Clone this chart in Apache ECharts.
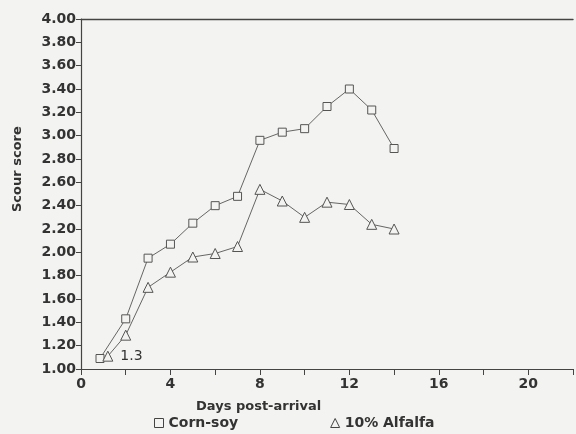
<!DOCTYPE html>
<html><head><meta charset="utf-8">
<script src="https://cdn.jsdelivr.net/npm/echarts@6/dist/echarts.min.js"></script>
<style>html,body{margin:0;padding:0;background:#f3f3f1}#c{width:576px;height:434px}</style>
</head><body><div id="c"></div>
<script>
const cornDays = [0.85, 2, 3, 4, 5, 6, 7, 8, 9, 10, 11, 12, 13, 14];
const cornSoy = [1.09, 1.43, 1.95, 2.07, 2.25, 2.40, 2.48, 2.96, 3.03, 3.06, 3.25, 3.40, 3.22, 2.89];
const alfDays = [1.2, 2, 3, 4, 5, 6, 7, 8, 9, 10, 11, 12, 13, 14];
const alfalfa = [1.11, 1.29, 1.70, 1.83, 1.96, 1.99, 2.05, 2.54, 2.44, 2.30, 2.43, 2.41, 2.24, 2.20];
const seriesNames = ['Corn-soy', '10% Alfalfa'];
const pointNote = '1.3';
const yTitle = 'Scour score';
const xTitle = 'Days post-arrival';

const font = '"DejaVu Sans", "Liberation Sans", Arial, sans-serif';
const ink = '#333';
const chart = echarts.init(document.getElementById('c'));
const mk = (xs, ys) => xs.map((x, i) => [x, ys[i]]);
const alfData = mk(alfDays, alfalfa).map((v, i) => i === 0 ? {
  value: v,
  label: { show: true, position: 'right', distance: 7, formatter: pointNote, fontSize: 14, color: ink, fontFamily: font }
} : v);

chart.setOption({
  backgroundColor: '#f3f3f1',
  animation: false,
  grid: { left: 81, right: 0, top: 19, bottom: 65 },
  xAxis: [{
    type: 'value', min: 0, max: 22, interval: 2,
    axisLine: { show: true, lineStyle: { color: '#444', width: 1.2 } },
    axisTick: { show: true, length: 6, lineStyle: { color: '#444' } },
    axisLabel: { formatter: v => v % 4 === 0 ? String(v) : '', fontSize: 14, fontWeight: 'bold', color: ink, fontFamily: font, margin: 8 },
    splitLine: { show: false }
  }, {
    type: 'value', min: 0, max: 22, position: 'top',
    axisLine: { show: true, onZero: false, lineStyle: { color: '#444', width: 1.4 } },
    axisTick: { show: false }, axisLabel: { show: false }, splitLine: { show: false }
  }],
  yAxis: {
    type: 'value', min: 1, max: 4, interval: 0.2,
    axisLine: { show: true, lineStyle: { color: '#444', width: 1.2 } },
    axisTick: { show: true, length: 5, lineStyle: { color: '#444' } },
    axisLabel: { formatter: v => v.toFixed(2), fontSize: 14, fontWeight: 'bold', color: ink, fontFamily: font, margin: 5 },
    splitLine: { show: false }
  },
  legend: {
    left: 149, top: 411, itemGap: 92, itemWidth: 9, itemHeight: 9,
    textStyle: { fontSize: 14, color: ink, fontFamily: font, fontWeight: 'bold' },
    itemStyle: { color: '#f3f3f1', borderColor: '#444', borderWidth: 1 },
    data: [{ name: seriesNames[0], icon: 'rect' }, { name: seriesNames[1], icon: 'triangle' }]
  },
  graphic: [
    { type: 'text', x: 11, y: 212, rotation: Math.PI / 2, style: { text: yTitle, font: 'bold 13px ' + font, fill: ink } },
    { type: 'text', left: 196, top: 400, style: { text: xTitle, font: 'bold 13px ' + font, fill: ink } }
  ],
  series: [{
    name: seriesNames[0], type: 'line', data: mk(cornDays, cornSoy),
    symbol: 'rect', symbolSize: 8,
    lineStyle: { color: '#666', width: 1 },
    itemStyle: { color: '#f3f3f1', borderColor: '#555', borderWidth: 1 }
  }, {
    name: seriesNames[1], type: 'line', data: alfData,
    symbol: 'triangle', symbolSize: 10,
    lineStyle: { color: '#666', width: 1 },
    itemStyle: { color: '#f3f3f1', borderColor: '#555', borderWidth: 1 }
  }]
});
</script></body></html>
